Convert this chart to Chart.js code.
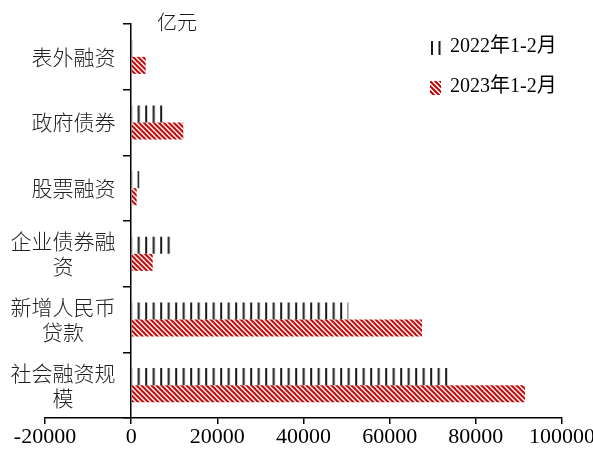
<!DOCTYPE html>
<html>
<head>
<meta charset="utf-8">
<script src="https://cdn.jsdelivr.net/npm/chart.js@4"></script>
<style>
  html, body { margin: 0; padding: 0; background: #fff; }
</style>
</head>
<body>
<canvas id="chart" width="593" height="453"></canvas>
<script>
// data (亿元), top to bottom as drawn
const categories = ['表外融资', '政府债券', '股票融资', ['企业债券融', '资'], ['新增人民币', '贷款'], ['社会融资规', '模']];
const seriesNames = ['2022年1-2月', '2023年1-2月'];
const values2022 = [500, 7450, 1900, 9170, 50400, 73600];
const values2023 = [3370, 12100, 1280, 5000, 67500, 91400];
const unitLabel = '亿元';
const xMin = -20000, xMax = 100000, xStep = 20000;

const RED = '#c00000';
const INK = '#1a1a1a';
const CJK = '"Noto Sans CJK SC", "Noto Sans", sans-serif';
const SERIF = '"Liberation Serif", "Times New Roman", "Noto Sans CJK SC", serif';

// vertical black strokes (2022)
function linePattern() {
  const c = document.createElement('canvas');
  c.width = 15; c.height = 4;
  const g = c.getContext('2d');
  g.fillStyle = INK;
  g.fillRect(0, 0, 2, 4);
  g.fillRect(7.5, 0, 2, 4);
  return g.createPattern(c, 'repeat');
}

// red "\" hatch (2023)
function hatchPattern() {
  const n = 5;
  const c = document.createElement('canvas');
  c.width = n; c.height = n;
  const g = c.getContext('2d');
  g.fillStyle = '#fff';
  g.fillRect(0, 0, n, n);
  g.strokeStyle = RED;
  g.lineWidth = 2;
  for (const k of [-1, 0, 1]) {
    g.beginPath();
    g.moveTo(k * n - 1, -1);
    g.lineTo(k * n + n + 1, n + 1);
    g.stroke();
  }
  return g.createPattern(c, 'repeat');
}

const barFill2022 = linePattern();
const barFill2023 = hatchPattern();
const legendFills = [linePattern(), hatchPattern()];

// keep stripes anchored at x = 0
const patternAnchor = {
  id: 'patternAnchor',
  beforeDatasetsDraw(chart) {
    const x0 = chart.scales.x.getPixelForValue(0);
    barFill2022.setTransform(new DOMMatrix([1, 0, 0, 1, x0 - 1, 0]));
    barFill2023.setTransform(new DOMMatrix([1, 0, 0, 1, x0, 0]));
  }
};

// unit label + legend
const annotations = {
  id: 'annotations',
  afterDraw(chart) {
    const ctx = chart.ctx;
    ctx.save();
    ctx.fillStyle = INK;
    ctx.textBaseline = 'middle';
    ctx.font = '300 20px ' + CJK;
    ctx.fillText(unitLabel, 157, 22);

    const boxes = [[431, 41, 10, 14, 47], [430, 81, 11, 14, 87]];
    ctx.font = '20px ' + SERIF;
    boxes.forEach(([bx, by, bw, bh, ty], i) => {
      ctx.save();
      ctx.translate(bx, by);
      ctx.fillStyle = legendFills[i];
      ctx.fillRect(0, 0, bw, bh);
      ctx.restore();
      ctx.fillStyle = '#000';
      ctx.fillText(seriesNames[i], 450, ty);
    });
    ctx.restore();
  }
};

// labels sit flush on an axis placed at x = 0, so add a small gap after each line,
// and centre wrapped lines under the first one, like the original
const GAP = '\u2002\u2005';
function padLines(lbl) {
  if (!Array.isArray(lbl)) return lbl + GAP;
  const w = lbl[0].length;
  return lbl.map((line, i) => {
    if (i === 0) return line + GAP;
    const n = (w - line.length) / 2;
    return line + '\u3000'.repeat(Math.floor(n)) + (n % 1 ? '\u2002' : '') + GAP;
  });
}

new Chart(document.getElementById('chart'), {
  type: 'bar',
  data: {
    labels: categories,
    datasets: [
      { label: seriesNames[0], data: values2022, backgroundColor: barFill2022 },
      { label: seriesNames[1], data: values2023, backgroundColor: barFill2023 }
    ]
  },
  options: {
    indexAxis: 'y',
    responsive: false,
    animation: false,
    datasets: { bar: { borderWidth: 0, categoryPercentage: 0.52, barPercentage: 1 } },
    layout: { padding: { left: 45, right: 31, top: 24, bottom: 0 } },
    plugins: { legend: { display: false }, tooltip: { enabled: false } },
    scales: {
      x: {
        type: 'linear',
        min: xMin,
        max: xMax,
        ticks: {
          stepSize: xStep,
          autoSkip: false,
          maxRotation: 0,
          padding: 0,
          color: '#000',
          font: { family: SERIF, size: 22 },
          callback: v => String(v)
        },
        grid: { display: true, drawOnChartArea: false, tickLength: 6, color: '#000', lineWidth: 1.5 },
        border: { display: true, color: '#000', width: 1.5 },
        afterFit(scale) { scale.height = 35; scale.paddingLeft = 0; scale.paddingRight = 0; }
      },
      y: {
        type: 'category',
        position: { x: 0 },
        offset: true,
        ticks: {
          autoSkip: false,
          padding: 8,
          color: '#222',
          font: { family: CJK, size: 21, weight: 300, lineHeight: 1.2 },
          callback(value) { return padLines(this.getLabelForValue(value)); }
        },
        grid: { display: true, drawOnChartArea: false, offset: true, tickLength: 7, color: '#000', lineWidth: 1.5 },
        border: { display: true, color: '#000', width: 1.5 },
        afterFit(scale) { scale.paddingTop = 0; scale.paddingBottom = 0; }
      }
    }
  },
  plugins: [patternAnchor, annotations]
});
</script>
</body>
</html>
